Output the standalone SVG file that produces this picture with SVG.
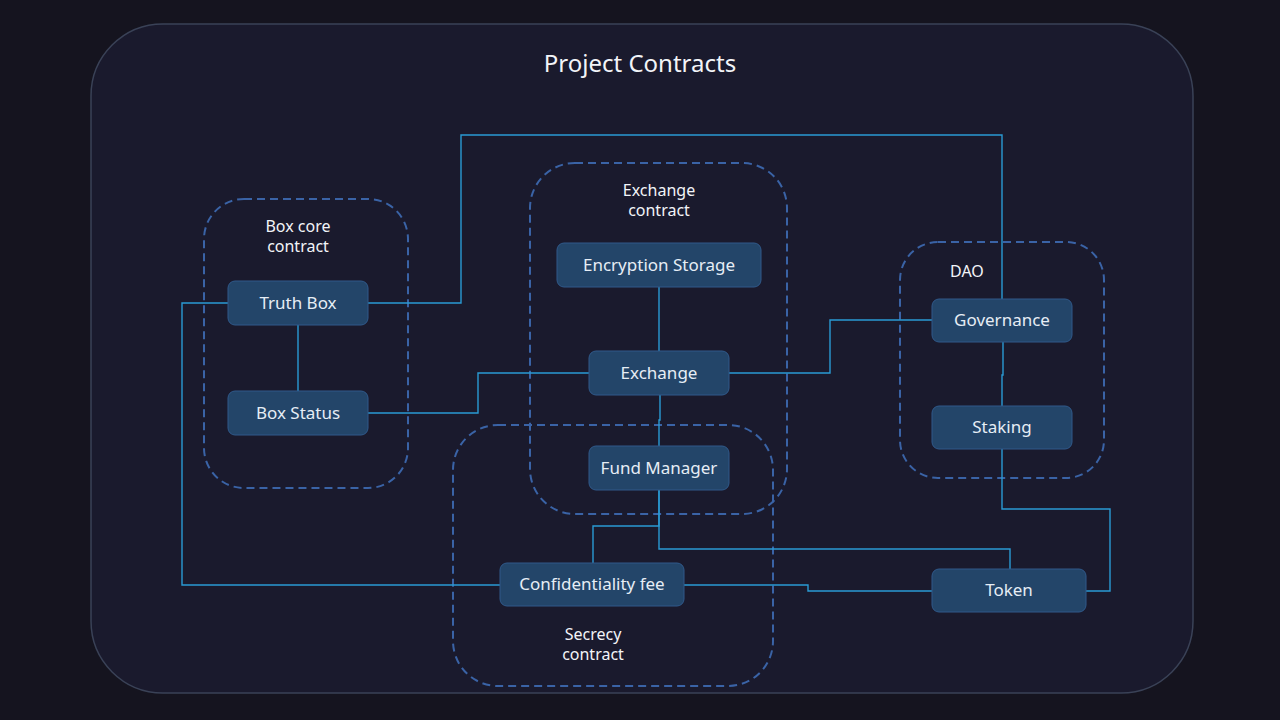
<svg xmlns="http://www.w3.org/2000/svg" width="1280" height="720" viewBox="0 0 1280 720">
<style>
.node rect{fill:#234569;stroke:#30598a;stroke-width:1}
.node text{fill:#e6edf5;font-family:"Noto Sans","Open Sans",sans-serif;font-size:17px;text-anchor:middle;dominant-baseline:central}
.grp rect{fill:none;stroke:#3a63a6;stroke-width:2;stroke-dasharray:8 5}
.grp text{fill:#f2f4f8;font-family:"Noto Sans","Open Sans",sans-serif;font-size:16px;text-anchor:middle}
#connectors path{fill:none;stroke:#2a9bd4;stroke-width:1.4}
</style>
<rect width="1280" height="720" fill="#15141f"/>
<rect x="91" y="24" width="1102" height="669" rx="72" fill="#1a1a2d" stroke="#3a4257" stroke-width="1.5"/>
<text x="640" y="72" fill="#f2f4f8" font-family="'Noto Sans','Open Sans',sans-serif" font-size="24" text-anchor="middle">Project Contracts</text>

<g id="grp-boxcore" class="grp"><rect x="204" y="199" width="204" height="289" rx="40"/><text x="298" y="232">Box core</text><text x="298" y="252">contract</text></g>
<g id="grp-exchange" class="grp"><rect x="530" y="163" width="257" height="351" rx="45"/><text x="659" y="196">Exchange</text><text x="659" y="216">contract</text></g>
<g id="grp-dao" class="grp"><rect x="900" y="242" width="204" height="236" rx="38"/><text x="967" y="277">DAO</text></g>
<g id="grp-secrecy" class="grp"><rect x="453" y="425" width="320" height="261" rx="45"/><text x="593" y="640">Secrecy</text><text x="593" y="660">contract</text></g>

<g id="connectors">
<path d="M368 303H461V135H1002V299"/>
<path d="M228 303H182V585H500"/>
<path d="M298 325V391"/>
<path d="M368 413H478V373H589"/>
<path d="M659 287V351"/>
<path d="M729 373H830V320H932"/>
<path d="M660 395V420H659V446"/>
<path d="M1003 342V375H1002V406"/>
<path d="M1002 449V509H1110V591H1086"/>
<path d="M659 490V526H593V563"/>
<path d="M659 490V549H1010V569"/>
<path d="M684 585H808V591H932"/>
</g>

<g id="truth-box" class="node"><rect x="228" y="281" width="140" height="44" rx="7"/><text x="298" y="302">Truth Box</text></g>
<g id="box-status" class="node"><rect x="228" y="391" width="140" height="44" rx="7"/><text x="298" y="412">Box Status</text></g>
<g id="encryption-storage" class="node"><rect x="557" y="243" width="204" height="44" rx="7"/><text x="659" y="264">Encryption Storage</text></g>
<g id="exchange" class="node"><rect x="589" y="351" width="140" height="44" rx="7"/><text x="659" y="372">Exchange</text></g>
<g id="fund-manager" class="node"><rect x="589" y="446" width="140" height="44" rx="7"/><text x="659" y="467">Fund Manager</text></g>
<g id="governance" class="node"><rect x="932" y="299" width="140" height="43" rx="7"/><text x="1002" y="319.5">Governance</text></g>
<g id="staking" class="node"><rect x="932" y="406" width="140" height="43" rx="7"/><text x="1002" y="426.5">Staking</text></g>
<g id="confidentiality-fee" class="node"><rect x="500" y="563" width="184" height="43" rx="7"/><text x="592" y="583.5">Confidentiality fee</text></g>
<g id="token" class="node"><rect x="932" y="569" width="154" height="43" rx="7"/><text x="1009" y="589.5">Token</text></g>
</svg>
